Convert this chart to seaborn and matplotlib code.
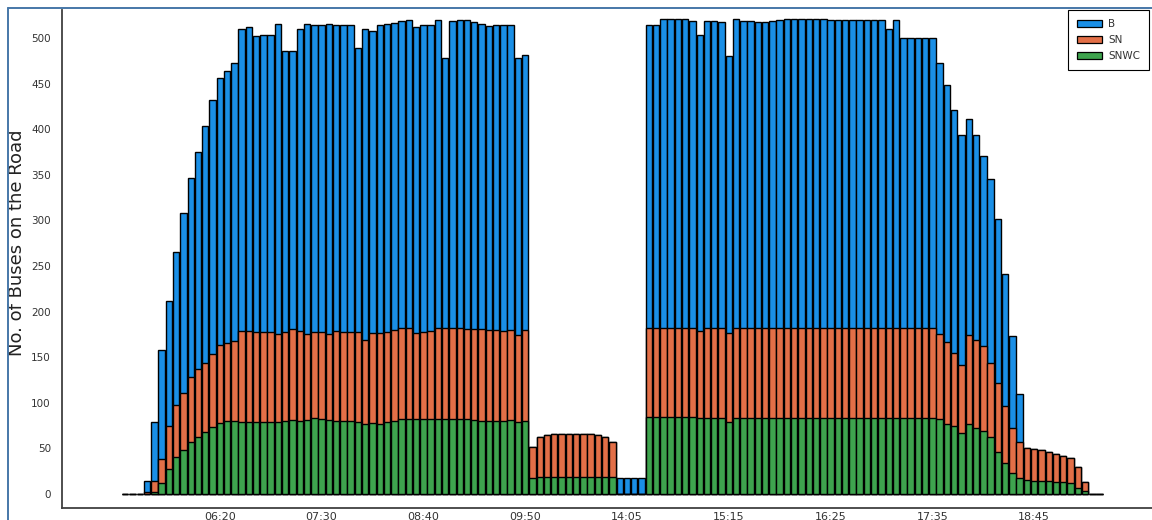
import matplotlib
matplotlib.use("Agg")
import matplotlib.pyplot as plt
import numpy as np
import pandas as pd
import seaborn as sns
from matplotlib.patches import Patch
from matplotlib.lines import Line2D

# 5-minute time slots: morning service block and afternoon service block
morning_slots = list(pd.date_range("2024-01-01 05:15", "2024-01-01 10:50", freq="5min").strftime("%H:%M"))
afternoon_slots = list(pd.date_range("2024-01-01 14:00", "2024-01-01 19:30", freq="5min").strftime("%H:%M"))

# Buses on the road per slot (B = all buses, SN / SNWC = subsets)
morning_B = [0, 0, 0, 14, 79, 158, 212, 265, 308, 347, 375, 403, 432, 456, 464, 473,
             510, 512, 502, 503, 503, 515, 486, 486, 510, 515, 514, 514, 515, 514, 514, 514,
             489, 510, 508, 514, 515, 516, 519, 520, 512, 514, 514, 520, 478, 519, 520, 520,
             518, 515, 513, 514, 514, 514, 478, 481,
             51, 62, 65, 66, 66, 66, 66, 66, 66, 65, 63, 57]
morning_SN = [0, 0, 0, 2, 14, 38, 74, 98, 111, 128, 137, 144, 153, 163, 166, 168,
              179, 179, 178, 178, 178, 175, 178, 181, 179, 175, 178, 178, 175, 179, 178, 178,
              178, 169, 176, 176, 178, 180, 182, 182, 176, 178, 179, 182, 182, 182, 182, 181,
              181, 181, 180, 180, 179, 180, 174, 180,
              51, 62, 65, 66, 66, 66, 66, 66, 66, 65, 63, 57]
morning_SNWC = [0, 0, 0, 0, 2, 12, 27, 40, 48, 57, 62, 68, 73, 78, 80, 80,
                79, 79, 79, 79, 79, 79, 80, 81, 80, 81, 83, 82, 81, 80, 80, 80,
                79, 77, 78, 77, 79, 80, 82, 82, 82, 82, 82, 82, 82, 82, 82, 82,
                81, 80, 80, 80, 80, 81, 79, 80,
                18, 19, 19, 19, 19, 19, 19, 19, 19, 19, 19, 19]

afternoon_B = [17, 17, 17, 17,
               514, 514, 521, 521, 521, 521, 519, 503, 519, 519, 518, 480, 521, 519, 519, 518,
               518, 519, 520, 521, 521, 521, 521, 521, 521, 520, 520, 520, 520, 520, 520, 520,
               520, 510, 520, 500, 500, 500, 500, 500, 473, 448, 421, 394, 411, 394, 371, 345,
               302, 241, 173, 110, 50, 49, 48, 46, 44, 42, 39, 30, 13, 0, 0]
afternoon_SN = [0, 0, 0, 0,
                182, 182, 182, 182, 182, 182, 182, 179, 182, 182, 182, 176, 182, 182, 182, 182,
                182, 182, 182, 182, 182, 182, 182, 182, 182, 182, 182, 182, 182, 182, 182, 182,
                182, 182, 182, 182, 182, 182, 182, 182, 175, 167, 155, 141, 174, 169, 162, 144,
                122, 97, 72, 57, 50, 49, 48, 46, 44, 42, 39, 30, 13, 0, 0]
afternoon_SNWC = [0, 0, 0, 0,
                  84, 84, 84, 84, 84, 84, 84, 83, 83, 83, 83, 79, 83, 83, 83, 83,
                  83, 83, 83, 83, 83, 83, 83, 83, 83, 83, 83, 83, 83, 83, 83, 83,
                  83, 83, 83, 83, 83, 83, 83, 83, 82, 77, 74, 67, 77, 72, 69, 62,
                  46, 34, 23, 18, 15, 14, 14, 14, 13, 13, 12, 7, 3, 0, 0]

tick_labels = ["06:20", "07:30", "08:40", "09:50", "14:05", "15:15", "16:25", "17:35", "18:45"]
series_names = ["B", "SN", "SNWC"]
series_colors = ["#1a8fe6", "#E36F47", "#3EA44E"]

slots = morning_slots + afternoon_slots
df = pd.DataFrame({
    "slot": slots,
    "B": morning_B + afternoon_B,
    "SN": morning_SN + afternoon_SN,
    "SNWC": morning_SNWC + afternoon_SNWC,
})

sns.set_style("white")
plt.rcParams["font.family"] = ["DejaVu Sans"]

W, H = 1152, 520
fig = plt.figure(figsize=(W / 100, H / 100), dpi=100)
ax_left, ax_bottom, ax_top = 62, 12, 10
ax = fig.add_axes([ax_left / W, ax_bottom / H, 1 - ax_left / W, (H - ax_bottom - ax_top) / H])

# Overlaid bars: totals behind, subsets drawn on top
for name, color in zip(series_names, series_colors):
    sns.barplot(data=df, x="slot", y=name, order=slots, color=color, saturation=1,
                width=0.88, edgecolor="black", linewidth=1.0, errorbar=None, ax=ax)

ax.set_ylim(-15.4, 530.7)
ax.set_xlim(-8.7, 141.2)
ax.set_yticks(np.arange(0, 501, 50))
ax.set_xticks([slots.index(t) for t in tick_labels])
ax.set_xticklabels(tick_labels)

ax.tick_params(axis="both", direction="in", length=3, width=0.8, colors="#404040",
               labelcolor="#333333")
ax.tick_params(axis="y", pad=8, labelsize=7.5)
ax.tick_params(axis="x", pad=3, labelsize=8)

for side in ["top", "right"]:
    ax.spines[side].set_visible(False)
for side in ["left", "bottom"]:
    ax.spines[side].set_color("#404040")
    ax.spines[side].set_linewidth(1.3)

ax.set_xlabel("")
ax.set_ylabel("No. of Buses on the Road", fontsize=13, color="#222222")
ax.yaxis.set_label_coords(-0.033, 0.532)

handles = [Patch(facecolor=c, edgecolor="black", linewidth=0.9, label=n)
           for n, c in zip(series_names, series_colors)]
leg = ax.legend(handles=handles, loc="upper left",
                bbox_to_anchor=((1068 - ax_left) / (W - ax_left), 1.0),
                borderaxespad=0, fontsize=7.5, frameon=True, fancybox=False,
                edgecolor="black", framealpha=1, borderpad=0.85, labelspacing=0.6,
                handlelength=2.4, handleheight=0.7, handletextpad=0.6)
leg.get_frame().set_linewidth(0.8)
for t in leg.get_texts():
    t.set_color("#333333")

# Thin border along the top and left of the figure
frame_color = "#4677a8"
fig.add_artist(Line2D([8 / W, 1], [1 - 7.5 / H, 1 - 7.5 / H], transform=fig.transFigure,
                      color=frame_color, linewidth=1.4))
fig.add_artist(Line2D([8 / W, 8 / W], [0, 1 - 7.5 / H], transform=fig.transFigure,
                      color=frame_color, linewidth=1.4))

fig.savefig("out.png", dpi=100)
